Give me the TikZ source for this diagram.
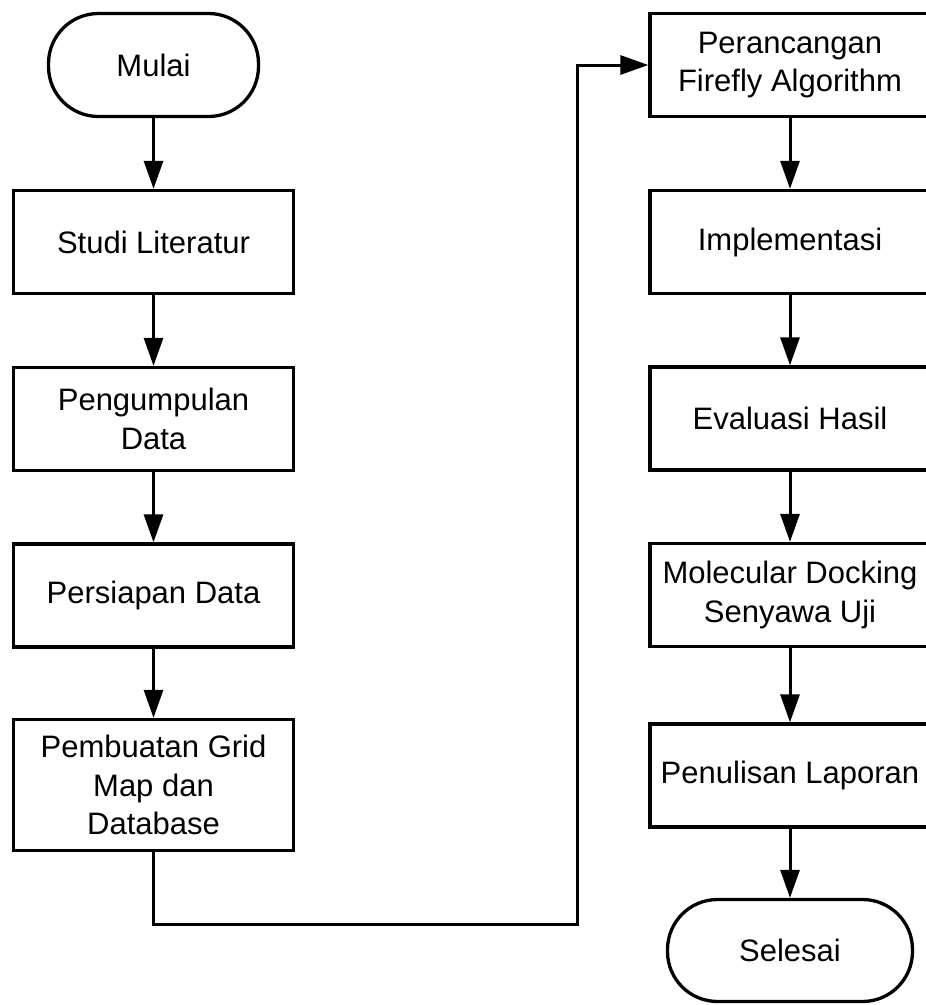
\documentclass[tikz,border=0pt]{standalone}
\usepackage{fontspec}
\setmainfont{Liberation Sans}
\usetikzlibrary{arrows.meta}

\begin{document}
\begin{tikzpicture}[x=1pt, y=-1pt,
    process/.style={rectangle, draw=black, line width=3.3pt, minimum width=280pt, minimum height=103pt, inner sep=0pt, align=center, font=\fontsize{31}{38.5}\selectfont},
    terminal/.style={process, rounded corners=50pt},
    flow/.style={line width=3pt, -{Triangle[length=28pt, width=19pt]}}
]
    \useasboundingbox (0,0) rectangle (926,1005);
    \def\xl{153.5}
    \def\xr{790}
    % Left column
    \node[terminal, minimum width=210pt] (start) at (\xl,65) {Mulai};
    \foreach \i/\y/\h/\l in {1/242/103/{Studi Literatur}, 2/419/103/{Pengumpulan\\Data}, 3/595.5/103/{Persiapan Data}, 4/785/131/{Pembuatan Grid\\Map dan\\Database}} {
        \node[process, minimum height=\h pt] (l\i) at (\xl,\y) {\l};
    }
    % Right column
    \foreach \i/\y/\l in {1/65/{Perancangan\\Firefly Algorithm}, 2/242/Implementasi, 3/418.5/{Evaluasi Hasil}, 4/595/{Molecular Docking\\Senyawa Uji}, 5/775.5/{Penulisan Laporan}} {
        \node[process] (r\i) at (\xr,\y) {\l};
    }
    \node[terminal, minimum width=245pt, minimum height=102pt] (stop) at (\xr,950.5) {Selesai};
    % Edges on the left
    \draw[flow] (start) -- (l1);
    \draw[flow] (l1) -- (l2);
    \draw[flow] (l2) -- (l3);
    \draw[flow] (l3) -- (l4);
    % Jump to the right column
    \coordinate (bend) at (577,924);
    \draw[flow] (l4.south) |- (bend) |- (r1.west);
    % Edges on the right
    \draw[flow] (r1) -- (r2);
    \draw[flow] (r2) -- (r3);
    \draw[flow] (r3) -- (r4);
    \draw[flow] (r4) -- (r5);
    \draw[flow] (r5) -- (stop);
\end{tikzpicture}
\end{document}
